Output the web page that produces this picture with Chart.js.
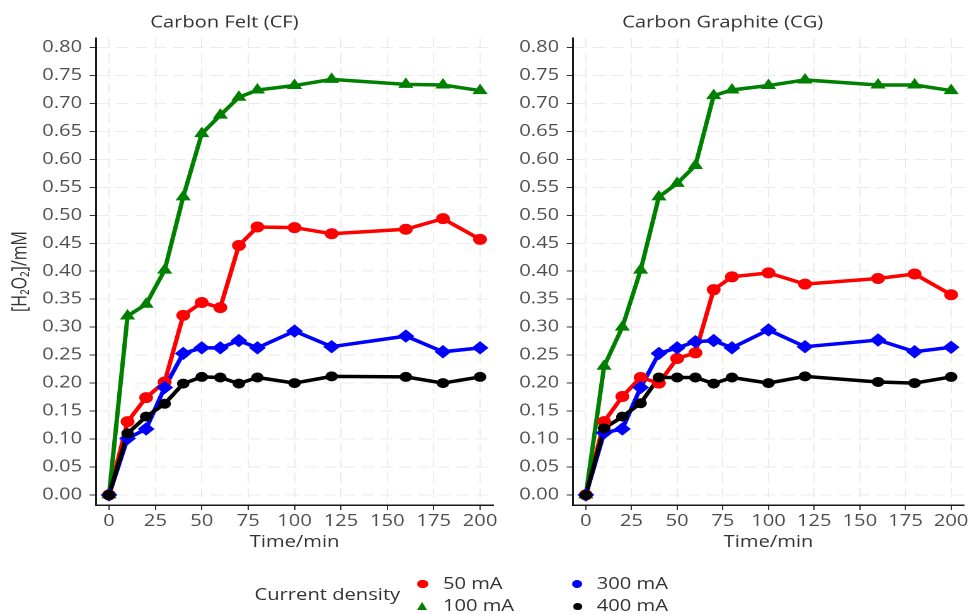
<!DOCTYPE html>
<html>
<head>
<meta charset="utf-8">
<script src="https://cdn.jsdelivr.net/npm/chart.js@4.4.1/dist/chart.umd.min.js"></script>
<style>
  html, body { margin: 0; padding: 0; background: #fff; overflow: hidden; }
  #page {
    position: absolute; left: 0; top: 0; width: 772px; height: 614px;
    transform: scaleX(1.26); transform-origin: 0 0;
    font-family: "Open Sans", "DejaVu Sans", sans-serif;
  }
  #cf { position: absolute; left: 0; top: 0; }
  #cg { position: absolute; left: 400px; top: 0; }
  .lg { position: absolute; font-size: 16px; line-height: 18px; color: #333; white-space: nowrap; }
  .key { position: absolute; }
</style>
</head>
<body>
<div id="page">
  <canvas id="cf" width="400" height="560" style="width:400px;height:560px"></canvas>
  <canvas id="cg" width="372" height="560" style="width:372px;height:560px"></canvas>
  <div id="legend"></div>
</div>
<script>
// Sampling times (min)
const timeMin = [0, 10, 20, 30, 40, 50, 60, 70, 80, 100, 120, 160, 180, 200];

// H2O2 concentration (mM), carbon felt cathode
const cf50  = [0, 0.131, 0.174, 0.202, 0.321, 0.344, 0.335, 0.446, 0.479, 0.478, 0.467, 0.475, 0.494, 0.457];
const cf100 = [0, 0.320, 0.341, 0.402, 0.533, 0.646, 0.679, 0.711, 0.724, 0.732, 0.743, 0.734, 0.733, 0.723];
const cf300 = [0, 0.101, 0.118, 0.192, 0.253, 0.263, 0.263, 0.276, 0.263, 0.293, 0.265, 0.284, 0.256, 0.263];
const cf400 = [0, 0.110, 0.140, 0.163, 0.199, 0.211, 0.210, 0.199, 0.210, 0.200, 0.212, 0.211, 0.200, 0.211];

// H2O2 concentration (mM), carbon graphite cathode
const cg50  = [0, 0.131, 0.176, 0.210, 0.200, 0.244, 0.254, 0.367, 0.390, 0.397, 0.377, 0.387, 0.395, 0.358];
const cg100 = [0, 0.230, 0.300, 0.402, 0.533, 0.557, 0.589, 0.714, 0.724, 0.732, 0.742, 0.733, 0.733, 0.723];
const cg300 = [0, 0.111, 0.118, 0.192, 0.253, 0.263, 0.274, 0.276, 0.263, 0.295, 0.265, 0.277, 0.256, 0.264];
const cg400 = [0, 0.119, 0.140, 0.164, 0.210, 0.210, 0.210, 0.199, 0.210, 0.200, 0.212, 0.202, 0.200, 0.211];

// Series names and axis ticks
const seriesNames = ['50 mA', '100 mA', '300 mA', '400 mA'];
const xTicks = [0, 25, 50, 75, 100, 125, 150, 175, 200];
const yTicks = [0, 0.05, 0.10, 0.15, 0.20, 0.25, 0.30, 0.35, 0.40, 0.45, 0.50, 0.55, 0.60, 0.65, 0.70, 0.75, 0.80];

const FONT = '"Open Sans", "DejaVu Sans", sans-serif';
const FS = 16;
const styles = [
  { color: '#ff0000', shape: 'circle',   r: 5 },
  { color: '#008000', shape: 'triangle', r: 6 },
  { color: '#0000ff', shape: 'rectRot',  r: 6 },
  { color: '#000000', shape: 'circle',   r: 4.5 }
];

// Panel heading drawn just above the plotting area
const panelTitle = {
  id: 'panelTitle',
  afterDraw(chart, args, opts) {
    const { ctx, chartArea } = chart;
    ctx.save();
    ctx.font = FS + 'px ' + FONT;
    ctx.fillStyle = '#333333';
    ctx.textBaseline = 'middle';
    ctx.textAlign = 'left';
    ctx.fillText(opts.text, chartArea.left + opts.offset, 23);
    ctx.restore();
  }
};

function buildDatasets(series) {
  const lines = series.map((vals, i) => ({
    label: seriesNames[i] + ' line',
    data: timeMin.map((t, k) => ({ x: t, y: vals[k] })),
    borderColor: styles[i].color,
    backgroundColor: styles[i].color,
    borderWidth: 3.5,
    pointRadius: 0,
    tension: 0,
    order: 13 - i
  }));
  const points = series.map((vals, i) => ({
    label: seriesNames[i],
    data: timeMin.map((t, k) => ({ x: t, y: vals[k] })),
    showLine: false,
    pointStyle: styles[i].shape,
    pointRadius: styles[i].r,
    pointBackgroundColor: styles[i].color,
    pointBorderColor: styles[i].color,
    pointBorderWidth: 1,
    order: 3 - i
  }));
  return lines.concat(points);
}

function makeChart(id, series, opts) {
  return new Chart(document.getElementById(id), {
    type: 'line',
    data: { datasets: buildDatasets(series) },
    plugins: [panelTitle],
    options: {
      responsive: false,
      devicePixelRatio: 2,
      animation: false,
      layout: { padding: { left: 0, right: opts.padRight, top: 38, bottom: 0 } },
      plugins: {
        legend: { display: false },
        tooltip: { enabled: false },
        panelTitle: { text: opts.title, offset: opts.titleOffset }
      },
      scales: {
        x: {
          type: 'linear', min: -7, max: 207,
          afterBuildTicks: s => { s.ticks = xTicks.map(v => ({ value: v })); },
          afterFit: s => { s.height = 55; },
          grid: { color: '#ebebeb', lineWidth: 1, drawTicks: true, tickLength: 5, tickColor: '#333333', tickWidth: 1 },
          border: { display: true, color: '#1a1a1a', width: 1.5, dash: [10, 5] },
          ticks: { color: '#4d4d4d', font: { family: FONT, size: FS }, padding: 2, maxRotation: 0, autoSkip: false,
                   callback: v => String(v) },
          title: { display: true, text: 'Time/min', color: '#333333', font: { family: FONT, size: FS },
                   padding: { top: 0, bottom: 8 } }
        },
        y: {
          type: 'linear', min: -0.018, max: 0.817,
          afterBuildTicks: s => { s.ticks = yTicks.map(v => ({ value: v })); },
          afterFit: s => { s.width = opts.yWidth; },
          grid: { color: '#ebebeb', lineWidth: 1, drawTicks: true, tickLength: 5, tickColor: '#333333', tickWidth: 1 },
          border: { display: true, color: '#1a1a1a', width: 1.5, dash: [10, 5] },
          ticks: { color: '#4d4d4d', font: { family: FONT, size: FS }, padding: 6, autoSkip: false,
                   callback: v => Number(v).toFixed(2) },
          title: { display: opts.yTitle, text: '[H\u2082O\u2082]/mM', color: '#333333',
                   font: { family: FONT, size: FS }, padding: { top: 7, bottom: 0 } }
        }
      }
    }
  });
}

makeChart('cf', [cf50, cf100, cf300, cf400],
  { title: 'Carbon Felt (CF)', titleOffset: 43, yWidth: 76.2, padRight: 8.7, yTitle: true });
makeChart('cg', [cg50, cg100, cg300, cg400],
  { title: 'Carbon Graphite (CG)', titleOffset: 39, yWidth: 54.8, padRight: 2.2, yTitle: false });

// Legend: heading plus a 2x2 grid of keys
(function buildLegend() {
  const host = document.getElementById('legend');
  const head = document.createElement('div');
  head.className = 'lg';
  head.textContent = 'Current density';
  head.style.left = '202px';
  head.style.top = '585px';
  host.appendChild(head);

  const cols = [335.5, 458];   // key centre x per column
  const rows = [584, 606];     // key centre y per row
  seriesNames.forEach((name, i) => {
    const col = i < 2 ? 0 : 1;
    const row = i % 2;
    const cx = cols[col], cy = rows[row];
    const st = styles[i];
    const key = document.createElement('div');
    key.className = 'key';
    if (st.shape === 'triangle') {
      key.style.width = '0'; key.style.height = '0';
      key.style.borderLeft = '4.6px solid transparent';
      key.style.borderRight = '4.6px solid transparent';
      key.style.borderBottom = '8px solid ' + st.color;
      key.style.left = (cx - 4.6) + 'px';
      key.style.top = (cy - 4.5) + 'px';
    } else {
      const d = i === 3 ? 7 : 8.5;
      key.style.width = d + 'px'; key.style.height = d + 'px';
      key.style.borderRadius = '50%';
      key.style.background = st.color;
      key.style.left = (cx - d / 2) + 'px';
      key.style.top = (cy - d / 2) + 'px';
    }
    host.appendChild(key);
    const txt = document.createElement('div');
    txt.className = 'lg';
    txt.textContent = name;
    txt.style.left = (col === 0 ? 351.5 : 473.6) + 'px';
    txt.style.top = (cy - 10) + 'px';
    host.appendChild(txt);
  });
})();
</script>
</body>
</html>
